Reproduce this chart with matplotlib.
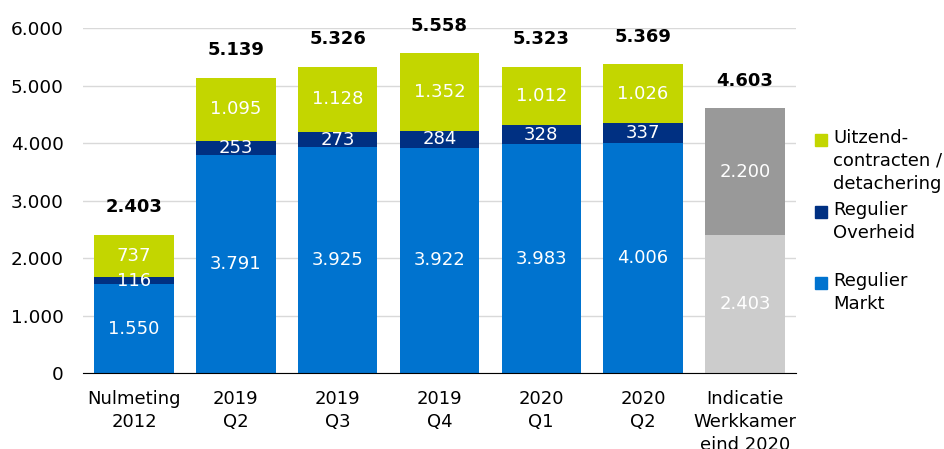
import numpy as np
import matplotlib.pyplot as plt
from matplotlib.patches import Rectangle

plt.rcParams['font.family'] = 'DejaVu Sans'

categories = ['Nulmeting\n2012', '2019\nQ2', '2019\nQ3', '2019\nQ4', '2020\nQ1', '2020\nQ2',
              'Indicatie\nWerkkamer\neind 2020']
markt = [1550, 3791, 3925, 3922, 3983, 4006]
overheid = [116, 253, 273, 284, 328, 337]
uitzend = [737, 1095, 1128, 1352, 1012, 1026]
indicatie = [2403, 2200]   # basis, extra
totals = [2403, 5139, 5326, 5558, 5323, 5369, 4603]
legend_labels = ['Uitzend-\ncontracten /\ndetachering', 'Regulier\nOverheid', 'Regulier\nMarkt']

c_markt = '#0073CF'
c_overheid = '#003082'
c_uitzend = '#C3D600'
c_basis = '#CCCCCC'
c_extra = '#999999'


def fmt(v):
    return f'{v:,}'.replace(',', '.')


fig = plt.figure(figsize=(9.44, 4.49), dpi=100)
ax = fig.add_axes([0.088, 0.169, 0.755, 0.7686])

x = np.arange(len(markt))
w = 0.78
fs = 13

b1 = ax.bar(x, markt, w, color=c_markt, zorder=2)
b2 = ax.bar(x, overheid, w, bottom=markt, color=c_overheid, zorder=2)
bot3 = np.array(markt) + np.array(overheid)
b3 = ax.bar(x, uitzend, w, bottom=bot3, color=c_uitzend, zorder=2)

xi = len(markt)
ax.bar(xi, indicatie[0], w, color=c_basis, zorder=2)
ax.bar(xi, indicatie[1], w, bottom=indicatie[0], color=c_extra, zorder=2)

for bars, vals, bots in [(b1, markt, np.zeros(len(markt))), (b2, overheid, markt), (b3, uitzend, bot3)]:
    for r, v, b in zip(bars, vals, bots):
        ax.text(r.get_x() + r.get_width() / 2, b + v / 2, fmt(v), ha='center', va='center',
                color='white', fontsize=fs, zorder=3)
ax.text(xi, indicatie[0] / 2, fmt(indicatie[0]), ha='center', va='center', color='white', fontsize=fs, zorder=3)
ax.text(xi, indicatie[0] + indicatie[1] / 2, fmt(indicatie[1]), ha='center', va='center',
        color='white', fontsize=fs, zorder=3)

for i, t in enumerate(totals):
    ax.annotate(fmt(t), (i, t), xytext=(0, 20), textcoords='offset points', ha='center', va='center',
                fontsize=fs, fontweight='bold', color='black')

ax.set_xlim(-0.5, len(categories) - 0.5)
ax.set_ylim(0, 6000)
ax.set_yticks(np.arange(0, 6001, 1000))
ax.set_yticklabels([fmt(v) for v in range(0, 6001, 1000)], fontsize=13.3)
ax.set_xticks(np.arange(len(categories)))
ax.set_xticklabels(categories, fontsize=fs, linespacing=1.35)
ax.tick_params(axis='y', length=0, pad=14)
ax.tick_params(axis='x', length=0, pad=12)
ax.grid(axis='y', color='#D9D9D9', linewidth=1, zorder=0)
ax.set_axisbelow(True)
for s in ['left', 'right', 'top']:
    ax.spines[s].set_visible(False)
ax.spines['bottom'].set_color('black')
ax.spines['bottom'].set_zorder(4)

# legend, drawn by hand to follow the uneven spacing of the original
leg_colors = [c_uitzend, c_overheid, c_markt]
leg_y = [140, 212, 283]   # pixel rows of the first line of each entry
W, H = 944, 449
for col, lab, yp in zip(leg_colors, legend_labels, leg_y):
    yf = 1 - yp / H
    fig.patches.append(Rectangle((815 / W, yf - 6 / H), 12 / W, 12 / H, color=col,
                                 transform=fig.transFigure, figure=fig))
    fig.text(833 / W, yf + 11 / H, lab, ha='left', va='top', fontsize=fs, linespacing=1.35)

fig.savefig('out.png', dpi=100)
